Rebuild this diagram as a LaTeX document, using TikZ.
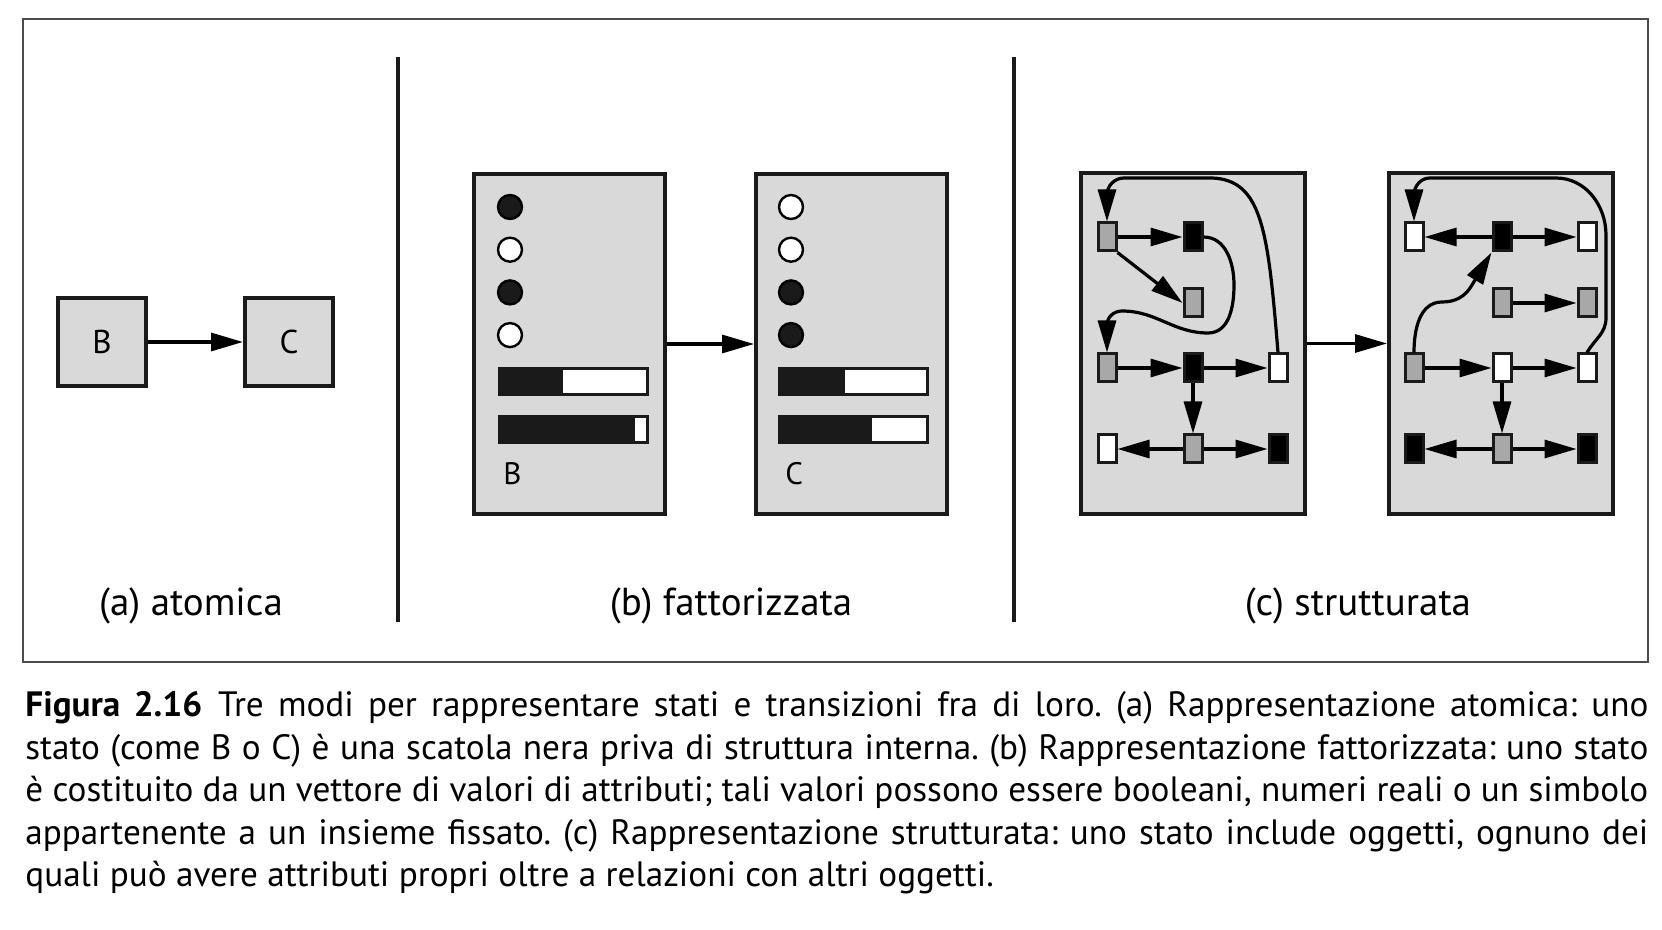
\documentclass[tikz,border=0pt]{standalone}
\usepackage{fontspec}
\setmainfont{PT Sans}
\usepackage{tikz}
\usetikzlibrary{arrows.meta,positioning}

\definecolor{boxgray}{HTML}{D9D9D9}
\definecolor{midgray}{HTML}{A8A8A8}
\definecolor{ink}{HTML}{1A1A1A}

\begin{document}
\frenchspacing
\begin{tikzpicture}[
    x=0.5pt, y=-0.5pt,
    state/.style={rectangle, draw=ink, line width=2pt, fill=boxgray, inner sep=0pt},
    atom/.style={state, minimum width=44pt, minimum height=44pt, font=\fontsize{16.5}{19}\selectfont},
    factor/.style={state, minimum width=95.5pt, minimum height=170pt},
    struct/.style={state, minimum width=112pt, minimum height=170.5pt},
    obj/.style={rectangle, draw=ink, line width=1.5pt, minimum width=9pt, minimum height=14pt, inner sep=0pt},
    attr/.style={circle, draw=black, line width=1.2pt, minimum size=12pt, inner sep=0pt},
    arrow/.style={line width=1.6pt, draw=black, -{Triangle[length=16pt,width=9pt]}},
    divider/.style={line width=2.2pt, draw=ink},
    panel/.style={font=\fontsize{19.5}{23}\selectfont, anchor=base},
    letter/.style={font=\fontsize{15.5}{18}\selectfont, anchor=base west, inner sep=0pt}
  ]
    \useasboundingbox (0,0) rectangle (1662,930);
    \draw[line width=0.75pt, draw=black!70] (23,19) rectangle (1648,662);

    % Dividers
    \draw[divider] (398,57) -- (398,622);
    \draw[divider] (1014,57) -- (1014,622);

    % (a) atomic states
    \node[atom] (aB) at (102,342) {B};
    \node[atom] (aC) at (289,342) {C};
    \draw[arrow] (aB) -- (aC);

    % (b) factored states
    \node[factor] (fB) at (569.5,344) {};
    \node[factor] (fC) at (851.5,344) {};
    \draw[arrow] (fB) -- (fC);
    \foreach \i/\c in {1/ink,2/white,3/ink,4/white}
      \node[attr, fill=\c] (fBa\i) at (510,164.3+42.7*\i) {};
    \foreach \i/\c in {1/white,2/white,3/ink,4/ink}
      \node[attr, fill=\c] (fCa\i) at (791,164.3+42.7*\i) {};
    \foreach \x/\y/\d in {499.5/368.5/563, 499.5/416.5/635, 779.5/368.5/845, 779.5/416.5/872} {
      \fill[white] (\x,\y) rectangle ++(148,26);
      \fill[ink] (\x,\y) rectangle (\d,\y+26);
      \draw[ink, line width=1.5pt] (\x,\y) rectangle ++(148,26);
    }
    \node[letter] (fBlab) at (503,485) {B};
    \node[letter] (fClab) at (785,485) {C};

    % (c) structured states
    \node[struct] (sB) at (1193,343.5) {};
    \node[struct] (sC) at (1501,343.5) {};
    \draw[arrow] (sB) -- (sC);

    % Objects of B
    \foreach \n/\x/\y/\c in {sB11/1107/237/midgray, sB12/1193/237/black, sB22/1193/303/midgray,
        sB31/1107/368/midgray, sB32/1193/368/black, sB33/1278/368/white,
        sB41/1107/449/white, sB42/1193/449/midgray, sB43/1278/449/black}
      \node[obj, fill=\c] (\n) at (\x,\y) {};
    \draw[arrow] (sB11) -- (sB12);
    \draw[arrow] (sB11.south east) -- (sB22.west);
    \draw[arrow] (sB12.east) to[out=0,in=90] (1234,285) to[out=-90,in=0] (1208,333)
      to[out=180,in=0] (1122,311) to[out=180,in=90] (1107,325) -- (sB31.north);
    \draw[arrow] (sB31) -- (sB32);
    \draw[arrow] (sB32) -- (sB33);
    \draw[arrow] (sB32) -- (sB42);
    \draw[arrow] (sB42) -- (sB41);
    \draw[arrow] (sB42) -- (sB43);
    \draw[arrow] (sB33.north) .. controls (1268,230) and (1262,180) .. (1212,178) -- (1124,178)
      to[out=180,in=90] (1107,195) -- (sB11.north);

    % Objects of C
    \foreach \n/\x/\y/\c in {sC11/1414/237/white, sC12/1502/237/black, sC13/1587/237/white,
        sC22/1502/303/midgray, sC23/1587/303/midgray,
        sC31/1414/368/midgray, sC32/1502/368/white, sC33/1587/368/white,
        sC41/1414/449/black, sC42/1502/449/midgray, sC43/1587/449/black}
      \node[obj, fill=\c] (\n) at (\x,\y) {};
    \draw[arrow] (sC12) -- (sC11);
    \draw[arrow] (sC12) -- (sC13);
    \draw[arrow] (sC22) -- (sC23);
    \draw[arrow] (sC31) -- (sC32);
    \draw[arrow] (sC32) -- (sC33);
    \draw[arrow] (sC32) -- (sC42);
    \draw[arrow] (sC42) -- (sC41);
    \draw[arrow] (sC42) -- (sC43);
    \draw[arrow] (sC31.north) to[out=90,in=180] (1442,302) to[out=0,in=240] (1472,285)
      -- (sC12.south west);
    \draw[arrow] (sC33.north) to[out=60,in=-90] (1606,318) -- (1606,235)
      to[out=90,in=0] (1556,178) -- (1430,178) to[out=180,in=90] (1414,195) -- (sC11.north);

    % Panel labels
    \node[panel] (labA) at (191,616) {(a) atomica};
    \node[panel] (labB) at (731,616) {(b) fattorizzata};
    \node[panel] (labC) at (1358,616) {(c) strutturata};

    % Caption
    \node[anchor=base west, text width=811.5pt, align=justify, inner sep=0pt,
          font=\fontsize{17.6}{21.2}\selectfont] (caption) at (25,717)
      {\textbf{Figura 2.16}\hspace{0.45em}Tre modi per rappresentare stati e transizioni fra di loro. (a) Rappresentazione atomica: uno\linebreak
       stato (come B o C) è una scatola nera priva di struttura interna. (b) Rappresentazione fattorizzata: uno stato\linebreak
       è costituito da un vettore di valori di attributi; tali valori possono essere booleani, numeri reali o un simbolo\linebreak
       appartenente a un insieme fissato. (c) Rappresentazione strutturata: uno stato include oggetti, ognuno dei\linebreak
       quali può avere attributi propri oltre a relazioni con altri oggetti.};
\end{tikzpicture}
\end{document}
